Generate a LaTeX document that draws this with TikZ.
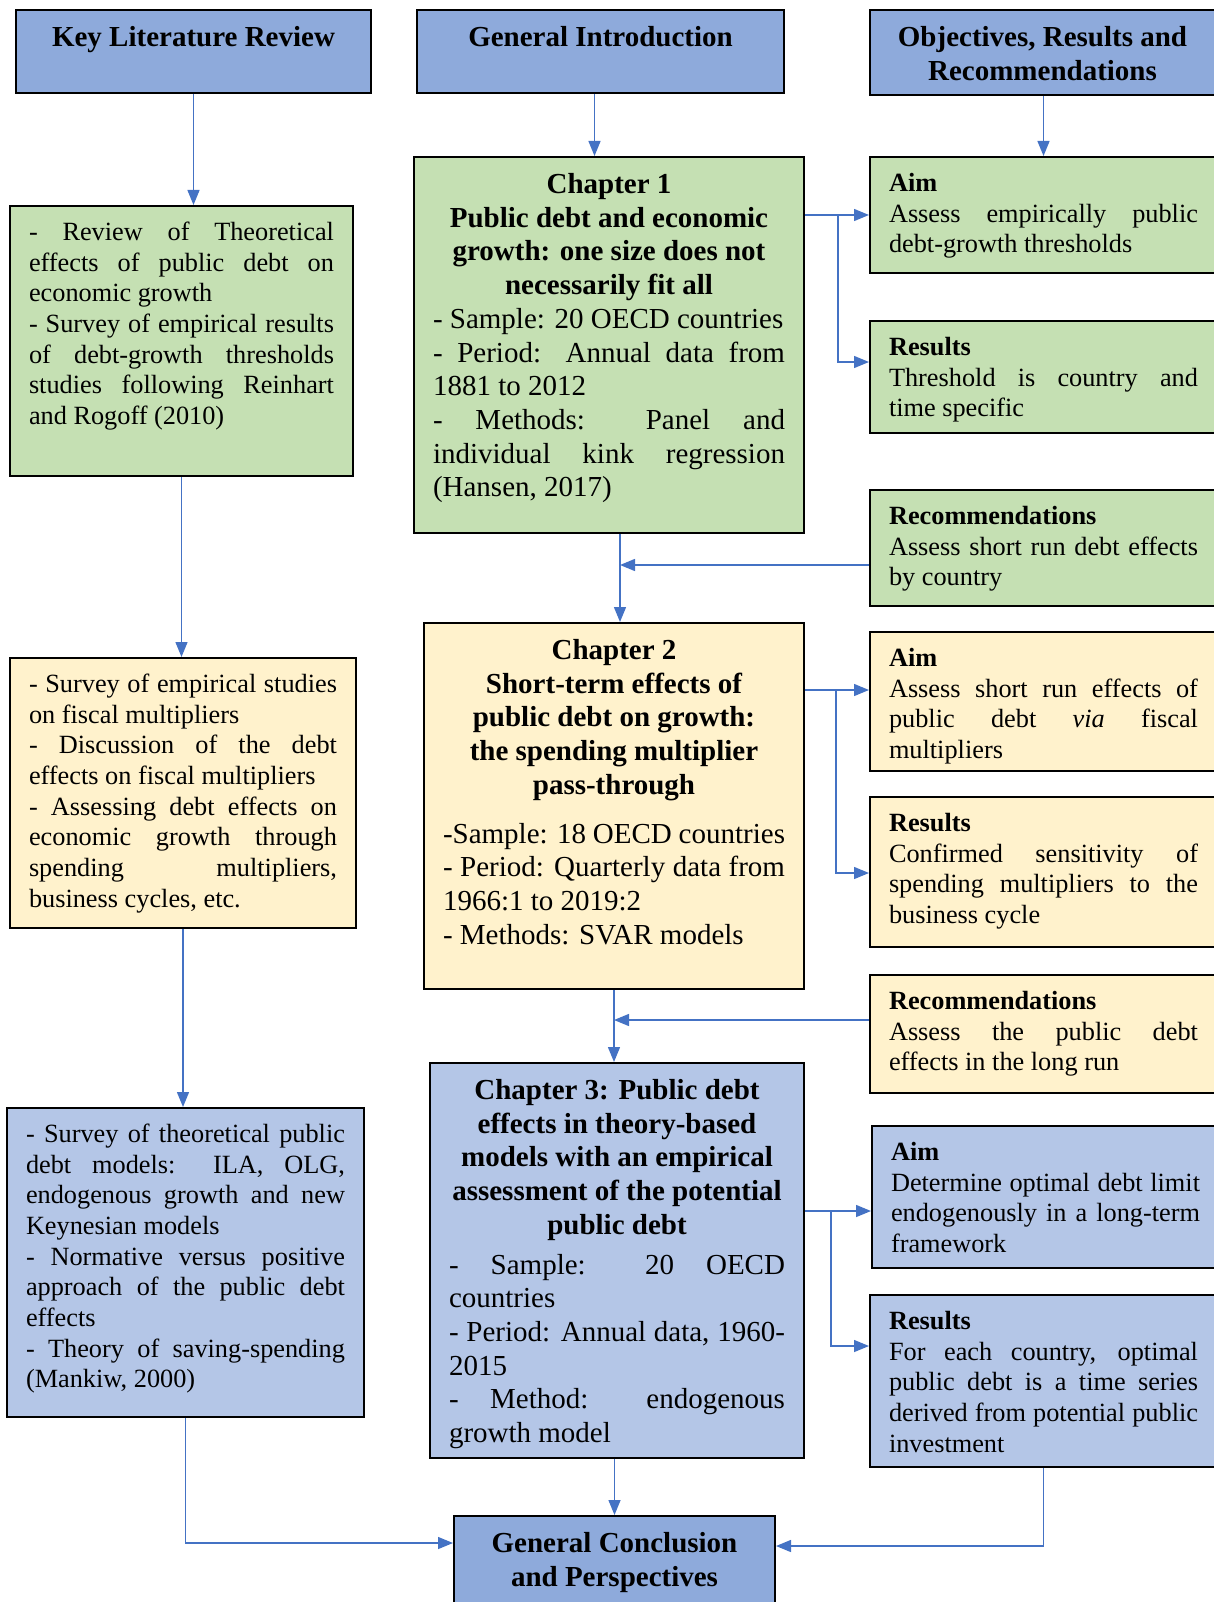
\documentclass[tikz,border=0pt]{standalone}
\usepackage{fontspec}
\setmainfont{Liberation Serif}
\usetikzlibrary{arrows.meta}

\definecolor{hdrblue}{HTML}{8EAADB}
\definecolor{litgreen}{HTML}{C5E0B3}
\definecolor{chapyellow}{HTML}{FFF2CC}
\definecolor{chapblue}{HTML}{B4C6E7}
\definecolor{linkblue}{HTML}{4472C4}

\setlength{\parindent}{0pt}
\tolerance=10000 \hbadness=10000 \vbadness=10000
\hyphenpenalty=10000 \exhyphenpenalty=10000

\newcommand{\bodysize}{\fontsize{26.3}{30.66}\selectfont}
\newcommand{\chapsize}{\fontsize{29}{33.7}\selectfont}
% text block of fixed width and height
\newcommand{\blk}[3]{\parbox[t][#2pt][t]{#1pt}{\rule{0pt}{0.64\baselineskip}#3}}

\tikzset{
  box/.style={draw=black, line width=2pt, inner xsep=19pt, inner ysep=15pt, anchor=north west, font=\bodysize},
  hdr/.style={box, fill=hdrblue, font=\chapsize\bfseries},
  chap/.style={box, font=\chapsize},
  flow/.style={draw=linkblue, line width=1.4pt, -{Triangle[length=15pt, width=12pt]}}
}

\begin{document}
\begin{tikzpicture}[x=1pt, y=-1pt]
\useasboundingbox (0,0) rectangle (1214,1602);
% Headers
\node[hdr] (keylit) at (15,9) {\blk{317}{53}{\centering Key Literature Review}};
\node[hdr] (intro) at (416,9) {\blk{329}{53}{\centering General Introduction}};
\node[hdr] (obj) at (869,9) {\blk{307}{55}{\centering Objectives, Results and\\Recommendations}\hspace*{30pt}};
% Literature column
\node[box, fill=litgreen] (lit1) at (9,205) {\blk{305}{240}{- Review of Theoretical\linebreak effects of public debt on\linebreak economic growth\\- Survey of empirical results\linebreak of debt-growth thresholds\linebreak studies following Reinhart\linebreak and Rogoff (2010)}};
\node[box, fill=chapyellow] (lit2) at (9,657) {\blk{308}{240}{- Survey of empirical studies\linebreak on fiscal multipliers\\- Discussion of the debt\linebreak effects on fiscal multipliers\\- Assessing debt effects on\linebreak economic growth through\linebreak spending multipliers,\linebreak business cycles, etc.}};
\node[box, fill=chapblue] (lit3) at (6,1107) {\blk{319}{279}{- Survey of theoretical public\linebreak debt models: ILA, OLG,\linebreak endogenous growth and new\linebreak Keynesian models\\- Normative versus positive\linebreak approach of the public debt\linebreak effects\\- Theory of saving-spending\linebreak (Mankiw, 2000)}};
% Chapters
\node[chap, fill=litgreen] (ch1) at (413,156) {\blk{352}{346}{{\centering\bfseries Chapter 1\\Public debt and economic\\growth: one size does not\\necessarily fit all\par}- Sample: 20 OECD countries\\- Period: Annual data from\linebreak 1881 to 2012\\- Methods: Panel and\linebreak individual kink regression\linebreak (Hansen, 2017)}};
\node[chap, fill=chapyellow] (ch2) at (423,622) {\blk{342}{336}{{\centering\bfseries Chapter 2\\Short-term effects of\\public debt on growth:\\the spending multiplier\\pass-through\par}\vspace{15pt}-Sample: 18 OECD countries\\- Period: Quarterly data from\linebreak 1966:1 to 2019:2\\- Methods: SVAR models}};
\node[chap, fill=chapblue] (ch3) at (429,1062) {\blk{336}{365}{{\centering\bfseries Chapter 3: Public debt\\effects in theory-based\\models with an empirical\\assessment of the potential\\public debt\par}\vspace{6pt}- Sample: 20 OECD\linebreak countries\\- Period: Annual data, 1960-\linebreak 2015\\- Method: endogenous\linebreak growth model}};
\node[hdr] (concl) at (453,1515) {\blk{283}{100}{\centering General Conclusion\\and Perspectives}};
% Objectives, results and recommendations
\node[box, fill=litgreen] (aim1) at (869,156) {\blk{309}{86}{\textbf{Aim}\\Assess empirically public\linebreak debt-growth thresholds}\hspace*{30pt}};
\node[box, fill=litgreen] (res1) at (869,320) {\blk{309}{82}{\textbf{Results}\\Threshold is country and\linebreak time specific}\hspace*{30pt}};
\node[box, fill=litgreen] (rec1) at (869,489) {\blk{309}{86}{\textbf{Recommendations}\\Assess short run debt effects\linebreak by country}\hspace*{30pt}};
\node[box, fill=chapyellow] (aim2) at (869,631) {\blk{309}{109}{\textbf{Aim}\\Assess short run effects of\linebreak public debt \emph{via} fiscal\linebreak multipliers}\hspace*{30pt}};
\node[box, fill=chapyellow] (res2) at (869,796) {\blk{309}{120}{\textbf{Results}\\Confirmed sensitivity of\linebreak spending multipliers to the\linebreak business cycle}\hspace*{30pt}};
\node[box, fill=chapyellow] (rec2) at (869,974) {\blk{309}{88}{\textbf{Recommendations}\\Assess the public debt\linebreak effects in the long run}\hspace*{30pt}};
\node[box, fill=chapblue] (aim3) at (871,1125) {\blk{309}{112}{\textbf{Aim}\\Determine optimal debt limit\linebreak endogenously in a long-term\linebreak framework}\hspace*{30pt}};
\node[box, fill=chapblue] (res3) at (869,1294) {\blk{309}{142}{\textbf{Results}\\For each country, optimal\linebreak public debt is a time series\linebreak derived from potential public\linebreak investment}\hspace*{30pt}};
% Arrow ends on the right boxes
\coordinate (res1in) at ([yshift=-42pt]res1.north west);
\coordinate (rec1out) at ([yshift=-76pt]rec1.north west);
\coordinate (aim2in) at ([yshift=-59pt]aim2.north west);
\coordinate (res2in) at ([yshift=-77pt]res2.north west);
\coordinate (rec2out) at ([yshift=-46pt]rec2.north west);
\coordinate (aim3in) at ([yshift=-86pt]aim3.north west);
\coordinate (res3in) at ([yshift=-52pt]res3.north west);
% Arrows
\draw[flow] (keylit.south) -- (keylit.south |- lit1.north);
\draw[flow] ([xshift=-6pt]intro.south) -- ([xshift=-6pt]intro.south |- ch1.north);
\draw[flow] ([xshift=-14pt]obj.south) -- ([xshift=-14pt]obj.south |- aim1.north);
\draw[flow] (lit1.south) -- (lit1.south |- lit2.north);
\draw[flow] (lit2.south) -- (lit2.south |- lit3.north);
\draw[flow] (lit3.south) |- ([yshift=-28pt]concl.north west);
\draw[flow] ([xshift=11pt]ch1.south) -- ([xshift=11pt]ch1.south |- ch2.north);
\draw[flow] (ch2.south) -- (ch2.south |- ch3.north);
\draw[flow] (concl.north |- ch3.south) -- (concl.north);
\draw[flow] (ch1.east |- aim1.west) -- (aim1.west);
\draw[flow] ([xshift=33pt]ch1.east |- aim1.west) |- (res1in);
\draw[flow] (rec1out) -- ([xshift=11pt]ch1.south |- rec1out);
\draw[flow] (ch2.east |- aim2in) -- (aim2in);
\draw[flow] ([xshift=31pt]ch2.east |- aim2in) |- (res2in);
\draw[flow] (rec2out) -- (ch2.south |- rec2out);
\draw[flow] (ch3.east |- aim3in) -- (aim3in);
\draw[flow] ([xshift=26pt]ch3.east |- aim3in) |- (res3in);
\draw[flow] ([xshift=-15pt]res3.south) |- ([yshift=-31pt]concl.north east);
\end{tikzpicture}
\end{document}
